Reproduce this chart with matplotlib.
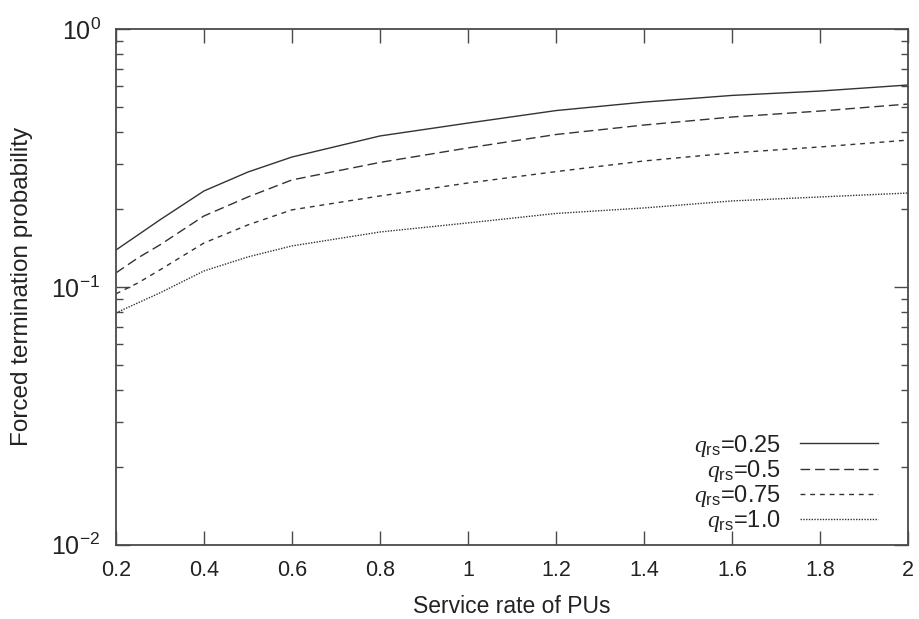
import numpy as np
import matplotlib
matplotlib.use("Agg")
import matplotlib.pyplot as plt
from matplotlib.ticker import LogLocator, NullFormatter, FixedLocator

# service rate of PUs (x axis)
service_rate = [0.2, 0.25, 0.3, 0.4, 0.5, 0.6, 0.8, 1.0, 1.2, 1.4, 1.6, 1.8, 2.0]

# forced termination probability per q_rs
p_q025 = [0.139, 0.159, 0.182, 0.2355, 0.279, 0.319, 0.385, 0.432, 0.483, 0.521, 0.553, 0.575, 0.607]
p_q050 = [0.1133, 0.1296, 0.1455, 0.1884, 0.2233, 0.260, 0.304, 0.346, 0.390, 0.4245, 0.456, 0.481, 0.512]
p_q075 = [0.0940, 0.1036, 0.1164, 0.148, 0.174, 0.199, 0.2253, 0.253, 0.280, 0.308, 0.331, 0.349, 0.371]
p_q100 = [0.0793, 0.0867, 0.0948, 0.1153, 0.1307, 0.1442, 0.1633, 0.1771, 0.1927, 0.2024, 0.2155, 0.2233, 0.2313]

labels = [r"$q_{\mathrm{rs}}$=0.25", r"$q_{\mathrm{rs}}$=0.5",
          r"$q_{\mathrm{rs}}$=0.75", r"$q_{\mathrm{rs}}$=1.0"]
x_ticks = [0.2, 0.4, 0.6, 0.8, 1.0, 1.2, 1.4, 1.6, 1.8, 2.0]
x_ticklabels = ["0.2", "0.4", "0.6", "0.8", "1", "1.2", "1.4", "1.6", "1.8", "2"]

plt.rcParams["font.family"] = ["Liberation Sans", "DejaVu Sans"]
plt.rcParams["mathtext.fontset"] = "custom"
plt.rcParams["mathtext.rm"] = "Liberation Sans"
plt.rcParams["mathtext.it"] = "Liberation Serif:italic"

axis_col = "#4a4a4a"
line_col = "#333333"
text_col = "#222222"

fig = plt.figure(figsize=(9.2, 6.19), dpi=100)
ax = fig.add_axes([0.126, 0.120, 0.861, 0.833])

styles = [
    dict(linestyle="-"),
    dict(linestyle=(0, (7, 3.5))),
    dict(linestyle=(0, (3.5, 3.5))),
    dict(linestyle=(0, (1, 1))),
]
series = [p_q025, p_q050, p_q075, p_q100]
for vals, lab, st in zip(series, labels, styles):
    ax.plot(service_rate, vals, color=line_col, lw=1.0, label=lab, **st)

ax.set_yscale("log")
ax.set_xlim(0.2, 2.0)
ax.set_ylim(1e-2, 1e0)

ax.xaxis.set_major_locator(FixedLocator(x_ticks))
ax.set_xticklabels(x_ticklabels)
ax.yaxis.set_major_locator(LogLocator(base=10, numticks=5))
ax.yaxis.set_minor_locator(LogLocator(base=10, subs=np.arange(2, 10), numticks=20))
ax.yaxis.set_minor_formatter(NullFormatter())

ax.tick_params(which="both", direction="in", top=True, right=True,
               color=axis_col, width=1.0, labelcolor=text_col)
ax.tick_params(which="major", length=10)
ax.tick_params(which="minor", length=5)
ax.tick_params(axis="x", labelsize=15.5, pad=11)
ax.tick_params(axis="y", labelsize=18, pad=11)
for sp in ax.spines.values():
    sp.set_color(axis_col)
    sp.set_linewidth(1.3)

ax.set_xlabel("Service rate of PUs", fontsize=16.5, color=text_col, labelpad=10)
ax.set_ylabel("Forced termination probability", fontsize=17.5, color=text_col)
ax.yaxis.set_label_coords(-0.105, 0.5)

leg = ax.legend(loc="lower right", bbox_to_anchor=(0.962, 0.02), frameon=False,
                markerfirst=False, fontsize=17, handlelength=3.3, handletextpad=0.8,
                labelspacing=-0.03, borderpad=0, borderaxespad=0)
for t in leg.get_texts():
    t.set_color(text_col)

fig.savefig("out.png", dpi=100)
